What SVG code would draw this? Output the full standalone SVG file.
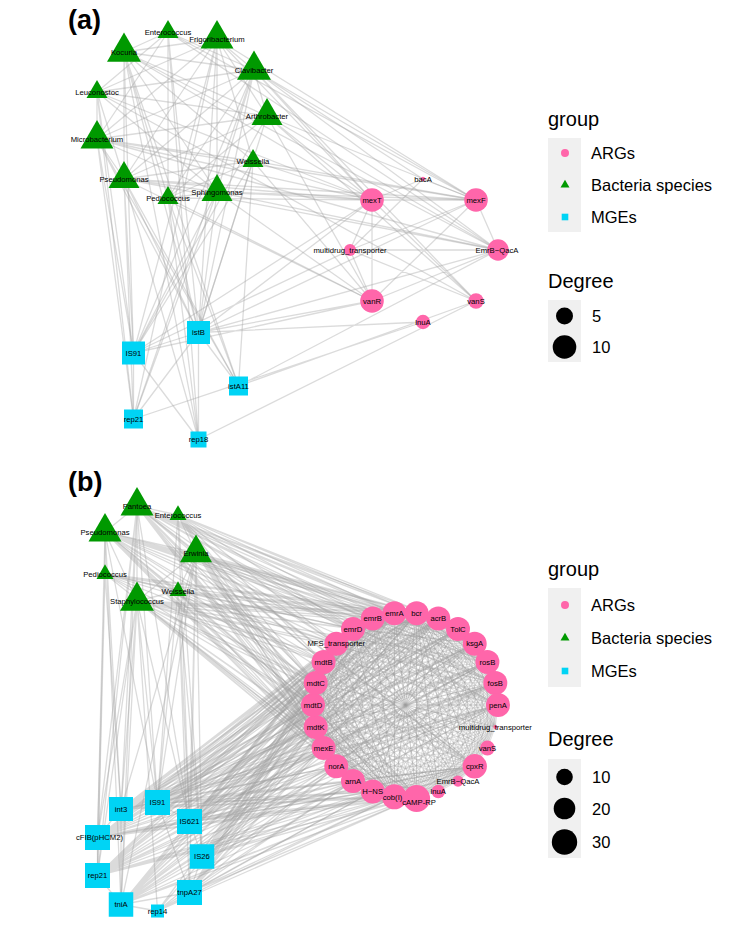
<svg xmlns="http://www.w3.org/2000/svg" xmlns:xlink="http://www.w3.org/1999/xlink" width="746" height="930" viewBox="0 0 746 930">
<style>
.e{fill:none;stroke:#a0a0a0;stroke-opacity:.38;stroke-width:1.3;stroke-linejoin:round;stroke-linecap:round}
.c{fill:none;stroke:#a0a0a0;stroke-opacity:.3;stroke-width:1;stroke-linejoin:round}
.arg{fill:#FF66AA}
.bac{fill:#009900}
.mge{fill:#00D4F5}
.l{font-family:"Liberation Sans",Arial,sans-serif;font-size:7.7px;fill:#000;text-anchor:middle}
.pl{font-family:"Liberation Sans",Arial,sans-serif;font-size:27px;font-weight:bold;fill:#000}
.lt{font-family:"Liberation Sans",Arial,sans-serif;font-size:20px;fill:#000}
.lx{font-family:"Liberation Sans",Arial,sans-serif;font-size:16.5px;fill:#000}
.kb{fill:#F0F0F0}
</style>
<defs>
<path id="chord" class="c" d="M416.6 613.2L438.3 618.5 416.6 613.2 458 628.9 416.6 613.2 474.7 643.7 416.6 613.2 487.4 662 416.6 613.2 495.3 682.9 416.6 613.2 498 705 416.6 613.2 495.3 727.1 416.6 613.2 487.4 748 416.6 613.2 474.7 766.3 416.6 613.2 458 781.1 416.6 613.2 438.3 791.5 416.6 613.2 416.6 796.8 416.6 613.2 394.4 796.8"/>
</defs>
<rect width="746" height="930" fill="#fff"/>
<text class="pl" x="68" y="29">(a)</text>
<text class="pl" x="68" y="491">(b)</text>

<g id="connectors-a" class="e">
<path d="M124 52L168 32 124 52 217 39 124 52 254 70 124 52 267 116 124 52 124 179 124 52 168 198 124 52 217 192 124 52 253 161 124 52 372 200 124 52 498 250 124 52 133.5 353 124 52 198.5 332.5 124 52 238.5 386 124 52 198.5 439.5"/>
<path d="M168 32L254 70 168 32 168 198 168 32 97 139 168 32 97 92 168 32 476 200 168 32 498 250 168 32 198.5 332.5 168 32 198.5 439.5"/>
<path d="M217 39L254 70 217 39 124 179 217 39 217 192 217 39 97 139 217 39 97 92 217 39 267 116 217 39 253 161 217 39 476 200 217 39 372 200 217 39 133.5 353 217 39 198.5 332.5 217 39 133.5 419"/>
<path d="M254 70L267 116 254 70 124 179 254 70 97 139 254 70 217 192 254 70 168 198 254 70 97 92 254 70 476 200 254 70 498 250 254 70 423 179 254 70 372 200 254 70 198.5 332.5 254 70 133.5 353 254 70 133.5 419 254 70 476 301"/>
<path d="M97 92L97 139 97 92 267 116 97 92 124 179 97 92 217 192 97 92 372 200 97 92 476 301 97 92 133.5 353 97 92 133.5 419"/>
<path d="M267 116L97 139 267 116 124 179 267 116 168 198 267 116 372 200 267 116 372 301 267 116 498 250 267 116 476 301 267 116 133.5 353 267 116 198.5 332.5 267 116 476 200"/>
<path d="M97 139L253 161 97 139 217 192 97 139 124 179 97 139 372 200 97 139 476 200 97 139 498 250 97 139 133.5 353 97 139 133.5 419 97 139 198.5 332.5 97 139 238.5 386"/>
<path d="M253 161L124 179 253 161 168 198 253 161 372 200 253 161 372 301 253 161 476 200 253 161 238.5 386 253 161 133.5 353 253 161 198.5 332.5"/>
<path d="M124 179L217 192 124 179 372 200 124 179 476 200 124 179 372 301 124 179 498 250 124 179 133.5 353 124 179 133.5 419 124 179 198.5 332.5 124 179 238.5 386 124 179 198.5 439.5"/>
<path d="M168 198L217 192 168 198 372 200 168 198 372 301 168 198 198.5 332.5 168 198 198.5 439.5 168 198 238.5 386"/>
<path d="M217 192L372 200 217 192 476 200 217 192 498 250 217 192 372 301 217 192 133.5 353 217 192 198.5 332.5 217 192 133.5 419"/>
<path d="M372 200L476 200M372 200L372 301M372 200L350 250M476 200L498 250M476 200L372 301M476 200L350 250M350 250L372 301M350 250L476 301M350 250L498 250M372 200L476 301M498 250L372 301M423 179L350 250M423 179L476 200M423 179L372 200"/>
<path d="M198.5 332.5L423 322M198.5 332.5L372 200M198.5 332.5L476 200M198.5 332.5L372 301M198.5 332.5L498 250M133.5 353L372 301M133.5 353L372 200M133.5 353L350 250M238.5 386L476 301M133.5 419L423 322M198.5 439.5L476 301M238.5 386L498 250"/>
<path d="M133.5 353L198.5 332.5M133.5 353L133.5 419M198.5 332.5L133.5 419M198.5 332.5L198.5 439.5M198.5 332.5L238.5 386M133.5 353L198.5 439.5"/>
</g>

<g id="connectors-b" class="e">
<use xlink:href="#chord"/>
<use xlink:href="#chord" transform="rotate(13.846 405.5 705)"/>
<use xlink:href="#chord" transform="rotate(27.692 405.5 705)"/>
<use xlink:href="#chord" transform="rotate(41.538 405.5 705)"/>
<use xlink:href="#chord" transform="rotate(55.385 405.5 705)"/>
<use xlink:href="#chord" transform="rotate(69.231 405.5 705)"/>
<use xlink:href="#chord" transform="rotate(83.077 405.5 705)"/>
<use xlink:href="#chord" transform="rotate(96.923 405.5 705)"/>
<use xlink:href="#chord" transform="rotate(110.769 405.5 705)"/>
<use xlink:href="#chord" transform="rotate(124.615 405.5 705)"/>
<use xlink:href="#chord" transform="rotate(138.462 405.5 705)"/>
<use xlink:href="#chord" transform="rotate(152.308 405.5 705)"/>
<use xlink:href="#chord" transform="rotate(166.154 405.5 705)"/>
<use xlink:href="#chord" transform="rotate(180 405.5 705)"/>
<use xlink:href="#chord" transform="rotate(193.846 405.5 705)"/>
<use xlink:href="#chord" transform="rotate(207.692 405.5 705)"/>
<use xlink:href="#chord" transform="rotate(221.538 405.5 705)"/>
<use xlink:href="#chord" transform="rotate(235.385 405.5 705)"/>
<use xlink:href="#chord" transform="rotate(249.231 405.5 705)"/>
<use xlink:href="#chord" transform="rotate(263.077 405.5 705)"/>
<use xlink:href="#chord" transform="rotate(276.923 405.5 705)"/>
<use xlink:href="#chord" transform="rotate(290.769 405.5 705)"/>
<use xlink:href="#chord" transform="rotate(304.615 405.5 705)"/>
<use xlink:href="#chord" transform="rotate(318.462 405.5 705)"/>
<use xlink:href="#chord" transform="rotate(332.308 405.5 705)"/>
<use xlink:href="#chord" transform="rotate(346.154 405.5 705)"/>
<path d="M137 506L416.6 613.2 137 506 438.3 618.5 137 506 458 628.9 137 506 474.7 643.7 137 506 487.4 662 137 506 495.3 682.9 137 506 498 705 137 506 474.7 766.3 137 506 416.6 796.8 137 506 394.4 796.8 137 506 372.7 791.5 137 506 353 781.1 137 506 336.3 766.3 137 506 323.6 748 137 506 315.7 727.1 137 506 313 705 137 506 315.7 682.9 137 506 323.6 662 137 506 336.3 643.7 137 506 353 628.9 137 506 372.7 618.5 137 506 394.4 613.2"/>
<path d="M105 532L416.6 613.2 105 532 438.3 618.5 105 532 458 628.9 105 532 474.7 643.7 105 532 487.4 662 105 532 495.3 682.9 105 532 498 705 105 532 474.7 766.3 105 532 416.6 796.8 105 532 394.4 796.8 105 532 372.7 791.5 105 532 353 781.1 105 532 336.3 766.3 105 532 323.6 748 105 532 315.7 727.1 105 532 313 705 105 532 315.7 682.9 105 532 323.6 662 105 532 336.3 643.7 105 532 353 628.9 105 532 372.7 618.5 105 532 394.4 613.2"/>
<path d="M196 553L416.6 613.2 196 553 438.3 618.5 196 553 458 628.9 196 553 474.7 643.7 196 553 487.4 662 196 553 495.3 682.9 196 553 498 705 196 553 474.7 766.3 196 553 416.6 796.8 196 553 394.4 796.8 196 553 372.7 791.5 196 553 353 781.1 196 553 336.3 766.3 196 553 323.6 748 196 553 315.7 727.1 196 553 313 705 196 553 315.7 682.9 196 553 323.6 662 196 553 336.3 643.7 196 553 353 628.9 196 553 372.7 618.5 196 553 394.4 613.2"/>
<path d="M137 601L416.6 613.2 137 601 438.3 618.5 137 601 458 628.9 137 601 474.7 643.7 137 601 487.4 662 137 601 495.3 682.9 137 601 498 705 137 601 474.7 766.3 137 601 416.6 796.8 137 601 394.4 796.8 137 601 372.7 791.5 137 601 353 781.1 137 601 336.3 766.3 137 601 323.6 748 137 601 315.7 727.1 137 601 313 705 137 601 315.7 682.9 137 601 323.6 662 137 601 336.3 643.7 137 601 353 628.9 137 601 372.7 618.5 137 601 394.4 613.2"/>
<path d="M178 515L394.4 613.2 178 515 372.7 618.5 178 515 353 628.9 178 515 336.3 643.7 178 515 323.6 662 178 515 315.7 682.9 178 515 313 705 178 515 416.6 613.2 178 515 438.3 618.5 178 515 323.6 748"/>
<path d="M105 574L394.4 613.2 105 574 372.7 618.5 105 574 353 628.9 105 574 336.3 643.7 105 574 323.6 662 105 574 315.7 682.9 105 574 313 705 105 574 416.6 613.2 105 574 438.3 618.5 105 574 323.6 748"/>
<path d="M178 591L394.4 613.2 178 591 372.7 618.5 178 591 353 628.9 178 591 336.3 643.7 178 591 323.6 662 178 591 315.7 682.9 178 591 313 705 178 591 416.6 613.2 178 591 438.3 618.5 178 591 323.6 748"/>
<path d="M137 506L178 515M137 506L105 532M137 506L196 553M105 532L196 553M105 532L137 601M137 506L137 601M196 553L137 601M105 532L105 574M105 574L178 591M196 553L178 591M178 515L196 553M105 532L178 591M137 601L178 591"/>
<path d="M105 532L97.5 837.5 105 532 97.5 875.5 105 532 121 809 105 532 121 904.5 105 532 157.5 802.5"/>
<path d="M137 506L121 809 137 506 121 904.5 137 506 157.5 802.5 137 506 97.5 875.5 137 506 97.5 837.5 137 506 189.5 821.5"/>
<path d="M137 601L121 809 137 601 121 904.5 137 601 157.5 802.5 137 601 189.5 821.5 137 601 157.5 911 137 601 97.5 837.5 137 601 97.5 875.5"/>
<path d="M196 553L189.5 821.5 196 553 202 856.5 196 553 189.5 892.5 196 553 157.5 802.5 196 553 121 809 196 553 121 904.5"/>
<path d="M105 574L97.5 837.5 105 574 97.5 875.5 105 574 121 809"/>
<path d="M178 591L157.5 802.5 178 591 189.5 821.5 178 591 189.5 892.5 178 591 202 856.5"/>
<path d="M178 515L157.5 802.5 178 515 189.5 821.5 178 515 202 856.5"/>
<path d="M121 809L416.6 613.2 121 809 438.3 618.5 121 809 458 628.9 121 809 474.7 643.7 121 809 487.4 662 121 809 495.3 682.9 121 809 498 705 121 809 474.7 766.3 121 809 416.6 796.8 121 809 394.4 796.8 121 809 372.7 791.5 121 809 353 781.1 121 809 336.3 766.3 121 809 323.6 748 121 809 315.7 727.1 121 809 313 705 121 809 315.7 682.9 121 809 323.6 662 121 809 336.3 643.7 121 809 353 628.9 121 809 372.7 618.5 121 809 394.4 613.2"/>
<path d="M157.5 802.5L416.6 613.2 157.5 802.5 438.3 618.5 157.5 802.5 458 628.9 157.5 802.5 474.7 643.7 157.5 802.5 487.4 662 157.5 802.5 495.3 682.9 157.5 802.5 498 705 157.5 802.5 474.7 766.3 157.5 802.5 416.6 796.8 157.5 802.5 394.4 796.8 157.5 802.5 372.7 791.5 157.5 802.5 353 781.1 157.5 802.5 336.3 766.3 157.5 802.5 323.6 748 157.5 802.5 315.7 727.1 157.5 802.5 313 705 157.5 802.5 315.7 682.9 157.5 802.5 323.6 662 157.5 802.5 336.3 643.7 157.5 802.5 353 628.9 157.5 802.5 372.7 618.5 157.5 802.5 394.4 613.2"/>
<path d="M189.5 821.5L416.6 613.2 189.5 821.5 438.3 618.5 189.5 821.5 458 628.9 189.5 821.5 474.7 643.7 189.5 821.5 487.4 662 189.5 821.5 495.3 682.9 189.5 821.5 498 705 189.5 821.5 474.7 766.3 189.5 821.5 416.6 796.8 189.5 821.5 394.4 796.8 189.5 821.5 372.7 791.5 189.5 821.5 353 781.1 189.5 821.5 336.3 766.3 189.5 821.5 323.6 748 189.5 821.5 315.7 727.1 189.5 821.5 313 705 189.5 821.5 315.7 682.9 189.5 821.5 323.6 662 189.5 821.5 336.3 643.7 189.5 821.5 353 628.9 189.5 821.5 372.7 618.5 189.5 821.5 394.4 613.2"/>
<path d="M97.5 837.5L416.6 613.2 97.5 837.5 438.3 618.5 97.5 837.5 458 628.9 97.5 837.5 474.7 643.7 97.5 837.5 487.4 662 97.5 837.5 495.3 682.9 97.5 837.5 498 705 97.5 837.5 474.7 766.3 97.5 837.5 416.6 796.8 97.5 837.5 394.4 796.8 97.5 837.5 372.7 791.5 97.5 837.5 353 781.1 97.5 837.5 336.3 766.3 97.5 837.5 323.6 748 97.5 837.5 315.7 727.1 97.5 837.5 313 705 97.5 837.5 315.7 682.9 97.5 837.5 323.6 662 97.5 837.5 336.3 643.7 97.5 837.5 353 628.9 97.5 837.5 372.7 618.5 97.5 837.5 394.4 613.2"/>
<path d="M97.5 875.5L416.6 613.2 97.5 875.5 438.3 618.5 97.5 875.5 458 628.9 97.5 875.5 474.7 643.7 97.5 875.5 487.4 662 97.5 875.5 495.3 682.9 97.5 875.5 498 705 97.5 875.5 474.7 766.3 97.5 875.5 416.6 796.8 97.5 875.5 394.4 796.8 97.5 875.5 372.7 791.5 97.5 875.5 353 781.1 97.5 875.5 336.3 766.3 97.5 875.5 323.6 748 97.5 875.5 315.7 727.1 97.5 875.5 313 705 97.5 875.5 315.7 682.9 97.5 875.5 323.6 662 97.5 875.5 336.3 643.7 97.5 875.5 353 628.9 97.5 875.5 372.7 618.5 97.5 875.5 394.4 613.2"/>
<path d="M121 904.5L416.6 613.2 121 904.5 438.3 618.5 121 904.5 458 628.9 121 904.5 474.7 643.7 121 904.5 487.4 662 121 904.5 495.3 682.9 121 904.5 498 705 121 904.5 474.7 766.3 121 904.5 416.6 796.8 121 904.5 394.4 796.8 121 904.5 372.7 791.5 121 904.5 353 781.1 121 904.5 336.3 766.3 121 904.5 323.6 748 121 904.5 315.7 727.1 121 904.5 313 705 121 904.5 315.7 682.9 121 904.5 323.6 662 121 904.5 336.3 643.7 121 904.5 353 628.9 121 904.5 372.7 618.5 121 904.5 394.4 613.2"/>
<path d="M202 856.5L416.6 796.8 202 856.5 394.4 796.8 202 856.5 372.7 791.5 202 856.5 353 781.1 202 856.5 336.3 766.3 202 856.5 323.6 748 202 856.5 315.7 727.1 202 856.5 313 705 202 856.5 315.7 682.9 202 856.5 323.6 662 202 856.5 336.3 643.7 202 856.5 353 628.9 202 856.5 372.7 618.5 202 856.5 394.4 613.2 202 856.5 416.6 613.2 202 856.5 438.3 618.5"/>
<path d="M189.5 892.5L416.6 796.8 189.5 892.5 394.4 796.8 189.5 892.5 372.7 791.5 189.5 892.5 353 781.1 189.5 892.5 336.3 766.3 189.5 892.5 323.6 748 189.5 892.5 315.7 727.1 189.5 892.5 313 705 189.5 892.5 315.7 682.9 189.5 892.5 323.6 662 189.5 892.5 336.3 643.7 189.5 892.5 353 628.9 189.5 892.5 372.7 618.5 189.5 892.5 394.4 613.2 189.5 892.5 416.6 613.2 189.5 892.5 438.3 618.5"/>
<path d="M157.5 911L416.6 796.8 157.5 911 394.4 796.8 157.5 911 372.7 791.5 157.5 911 353 781.1 157.5 911 336.3 766.3 157.5 911 372.7 618.5 157.5 911 416.6 613.2"/>
<path d="M121 809L157.5 802.5M121 809L97.5 837.5M157.5 802.5L189.5 821.5M97.5 837.5L97.5 875.5M97.5 875.5L121 904.5M121 904.5L189.5 892.5M189.5 821.5L202 856.5M202 856.5L189.5 892.5M121 904.5L157.5 911M121 809L121 904.5M157.5 802.5L189.5 892.5M97.5 837.5L189.5 821.5"/>
</g>

<g id="nodes-a">
<g id="a-Enterococcus"><polygon class="bac" points="168,19.9 178.5,38.1 157.5,38.1"/><text class="l" x="168" y="34.7">Enterococcus</text></g>
<g id="a-Frigoribacterium"><polygon class="bac" points="217,20 233.5,48.5 200.5,48.5"/><text class="l" x="217" y="41.7">Frigoribacterium</text></g>
<g id="a-Kocuria"><polygon class="bac" points="124,32.4 141,61.8 107,61.8"/><text class="l" x="124" y="54.7">Kocuria</text></g>
<g id="a-Clavibacter"><polygon class="bac" points="254,50.4 271,79.8 237,79.8"/><text class="l" x="254" y="72.7">Clavibacter</text></g>
<g id="a-Leuconostoc"><polygon class="bac" points="97,79.9 107.5,98.1 86.5,98.1"/><text class="l" x="97" y="94.7">Leuconostoc</text></g>
<g id="a-Arthrobacter"><polygon class="bac" points="267,98.1 282.5,125 251.5,125"/><text class="l" x="267" y="118.7">Arthrobacter</text></g>
<g id="a-Microbacterium"><polygon class="bac" points="97,120 113.5,148.5 80.5,148.5"/><text class="l" x="97" y="141.7">Microbacterium</text></g>
<g id="a-Weissella"><polygon class="bac" points="253,148.9 263.5,167.1 242.5,167.1"/><text class="l" x="253" y="163.7">Weissella</text></g>
<g id="a-Pseudomonas"><polygon class="bac" points="124,161.1 139.5,188 108.5,188"/><text class="l" x="124" y="181.7">Pseudomonas</text></g>
<g id="a-Pediococcus"><polygon class="bac" points="168,185.9 178.5,204.1 157.5,204.1"/><text class="l" x="168" y="200.7">Pediococcus</text></g>
<g id="a-Sphingomonas"><polygon class="bac" points="217,174.1 232.5,201 201.5,201"/><text class="l" x="217" y="194.7">Sphingomonas</text></g>
<g id="a-bacA"><circle class="arg" cx="423" cy="179" r="2.2"/><text class="l" x="423" y="181.7">bacA</text></g>
<g id="a-mexT"><circle class="arg" cx="372" cy="200" r="11.8"/><text class="l" x="372" y="202.7">mexT</text></g>
<g id="a-mexF"><circle class="arg" cx="476" cy="200" r="11.8"/><text class="l" x="476" y="202.7">mexF</text></g>
<g id="a-multidrug_transporter"><circle class="arg" cx="350" cy="250" r="6"/><text class="l" x="350" y="252.7">multidrug_transporter</text></g>
<g id="a-EmrB-QacA"><circle class="arg" cx="498" cy="250" r="10.7"/><text class="l" x="497" y="252.7">EmrB−QacA</text></g>
<g id="a-vanR"><circle class="arg" cx="372" cy="301" r="11.8"/><text class="l" x="372" y="303.7">vanR</text></g>
<g id="a-vanS"><circle class="arg" cx="476" cy="301" r="7.7"/><text class="l" x="476" y="303.7">vanS</text></g>
<g id="a-lnuA"><circle class="arg" cx="423" cy="322" r="7.2"/><text class="l" x="423" y="324.7">lnuA</text></g>
<g id="a-istB"><rect class="mge" x="187" y="321" width="23" height="23"/><text class="l" x="198.5" y="335.2">istB</text></g>
<g id="a-IS91"><rect class="mge" x="122" y="341.5" width="23" height="23"/><text class="l" x="133.5" y="355.7">IS91</text></g>
<g id="a-istA11"><rect class="mge" x="229" y="376.5" width="19" height="19"/><text class="l" x="238.5" y="388.7">istA11</text></g>
<g id="a-rep21"><rect class="mge" x="124" y="409.5" width="19" height="19"/><text class="l" x="133.5" y="421.7">rep21</text></g>
<g id="a-rep18"><rect class="mge" x="190.5" y="431.5" width="16" height="16"/><text class="l" x="198.5" y="442.2">rep18</text></g>
</g>

<g id="nodes-b">
<g id="b-Pantoea"><polygon class="bac" points="137,487 153.5,515.5 120.5,515.5"/><text class="l" x="137" y="508.7">Pantoea</text></g>
<g id="b-Enterococcus"><polygon class="bac" points="178,505.2 186.5,519.9 169.5,519.9"/><text class="l" x="178" y="517.7">Enterococcus</text></g>
<g id="b-Pseudomonas"><polygon class="bac" points="105,513 121.5,541.5 88.5,541.5"/><text class="l" x="105" y="534.7">Pseudomonas</text></g>
<g id="b-Erwinia"><polygon class="bac" points="196,534.5 212,562.2 180,562.2"/><text class="l" x="196" y="555.7">Erwinia</text></g>
<g id="b-Pediococcus"><polygon class="bac" points="105,564.2 113.5,578.9 96.5,578.9"/><text class="l" x="105" y="576.7">Pediococcus</text></g>
<g id="b-Weissella"><polygon class="bac" points="178,581.2 186.5,595.9 169.5,595.9"/><text class="l" x="178" y="593.7">Weissella</text></g>
<g id="b-Staphylococcus"><polygon class="bac" points="137,581.4 154,610.8 120,610.8"/><text class="l" x="137" y="603.7">Staphylococcus</text></g>

<g id="b-bcr"><circle class="arg" cx="416.6" cy="613.2" r="12"/><text class="l" x="416.6" y="615.9">bcr</text></g>
<g id="b-acrB"><circle class="arg" cx="438.3" cy="618.5" r="12"/><text class="l" x="438.3" y="621.2">acrB</text></g>
<g id="b-TolC"><circle class="arg" cx="458" cy="628.9" r="12"/><text class="l" x="458" y="631.6">TolC</text></g>
<g id="b-ksgA"><circle class="arg" cx="474.7" cy="643.7" r="12"/><text class="l" x="474.7" y="646.4">ksgA</text></g>
<g id="b-rosB"><circle class="arg" cx="487.4" cy="662" r="12"/><text class="l" x="487.4" y="664.7">rosB</text></g>
<g id="b-fosB"><circle class="arg" cx="495.3" cy="682.9" r="12"/><text class="l" x="495.3" y="685.6">fosB</text></g>
<g id="b-penA"><circle class="arg" cx="498" cy="705" r="12"/><text class="l" x="498" y="707.7">penA</text></g>
<g id="b-vanS"><circle class="arg" cx="487.4" cy="748" r="7.4"/><text class="l" x="487.4" y="750.7">vanS</text></g>
<g id="b-cpxR"><circle class="arg" cx="474.7" cy="766.3" r="12.2"/><text class="l" x="474.7" y="769">cpxR</text></g>
<g id="b-lnuA"><circle class="arg" cx="438.3" cy="791.5" r="6.8"/><text class="l" x="438.3" y="794.2">lnuA</text></g>
<g id="b-EmrB-QacA"><circle class="arg" cx="458" cy="781.1" r="5.6"/><text class="l" x="458" y="783.8">EmrB−QacA</text></g>
<g id="b-cob"><circle class="arg" cx="394.4" cy="796.8" r="12.5"/><text class="l" x="392.5" y="799.5">cob(I)</text></g>
<g id="b-cAMP-RP"><circle class="arg" cx="416.6" cy="798.5" r="13.5"/><text class="l" x="419" y="805.2">cAMP-RP</text></g>
<g id="b-H-NS"><circle class="arg" cx="372.7" cy="791.5" r="12"/><text class="l" x="372.7" y="794.2">H−NS</text></g>
<g id="b-arnA"><circle class="arg" cx="353" cy="781.1" r="12"/><text class="l" x="353" y="783.8">arnA</text></g>
<g id="b-norA"><circle class="arg" cx="336.3" cy="766.3" r="12"/><text class="l" x="336.3" y="769">norA</text></g>
<g id="b-mexE"><circle class="arg" cx="323.6" cy="748" r="12"/><text class="l" x="323.6" y="750.7">mexE</text></g>
<g id="b-mdtK"><circle class="arg" cx="315.7" cy="727.1" r="12"/><text class="l" x="315.7" y="729.8">mdtK</text></g>
<g id="b-mdtD"><circle class="arg" cx="313" cy="705" r="12"/><text class="l" x="313" y="707.7">mdtD</text></g>
<g id="b-mdtC"><circle class="arg" cx="315.7" cy="682.9" r="12"/><text class="l" x="315.7" y="685.6">mdtC</text></g>
<g id="b-mdtB"><circle class="arg" cx="323.6" cy="662" r="12"/><text class="l" x="323.6" y="664.7">mdtB</text></g>
<g id="b-emrD"><circle class="arg" cx="353" cy="628.9" r="12"/><text class="l" x="353" y="631.6">emrD</text></g>
<g id="b-emrB"><circle class="arg" cx="372.7" cy="618.5" r="12"/><text class="l" x="372.7" y="621.2">emrB</text></g>
<g id="b-emrA"><circle class="arg" cx="394.4" cy="613.2" r="12"/><text class="l" x="394.4" y="615.9">emrA</text></g>
<g id="b-MFS_transporter"><circle class="arg" cx="336.3" cy="643.7" r="12"/><text class="l" x="336.3" y="646.4">MFS_transporter</text></g>
<g id="b-multidrug_transporter"><circle class="arg" cx="495.3" cy="727.1" r="2"/><text class="l" x="495.3" y="729.8">multidrug_transporter</text></g>

<g id="b-int3"><rect class="mge" x="109" y="797" width="24" height="24"/><text class="l" x="121" y="811.7">int3</text></g>
<g id="b-IS91"><rect class="mge" x="145" y="790" width="25" height="25"/><text class="l" x="157.5" y="805.2">IS91</text></g>
<g id="b-IS621"><rect class="mge" x="177" y="809" width="25" height="25"/><text class="l" x="189.5" y="824.2">IS621</text></g>
<g id="b-cFIB"><rect class="mge" x="85" y="825" width="25" height="25"/><text class="l" x="99.5" y="840.2">cFIB(pHCM2)</text></g>
<g id="b-IS26"><rect class="mge" x="189.75" y="844.25" width="24.5" height="24.5"/><text class="l" x="202" y="859.2">IS26</text></g>
<g id="b-rep21"><rect class="mge" x="85" y="863" width="25" height="25"/><text class="l" x="97.5" y="878.2">rep21</text></g>
<g id="b-tnpA27"><rect class="mge" x="177" y="880" width="25" height="25"/><text class="l" x="189.5" y="895.2">tnpA27</text></g>
<g id="b-tniA"><rect class="mge" x="108.75" y="892.25" width="24.5" height="24.5"/><text class="l" x="121" y="907.2">tniA</text></g>
<g id="b-rep14"><rect class="mge" x="151" y="904.5" width="13" height="13"/><text class="l" x="157.5" y="913.7">rep14</text></g>
</g>

<g id="legend-a">
<text class="lt" x="548" y="126">group</text>
<rect class="kb" x="548" y="138" width="33" height="94"/>
<circle class="arg" cx="565" cy="153" r="4"/>
<polygon class="bac" points="565,179.8 569.5,187.6 560.5,187.6"/>
<rect class="mge" x="561.7" y="213.7" width="6.6" height="6.6"/>
<text class="lx" x="591" y="159">ARGs</text>
<text class="lx" x="591" y="191">Bacteria species</text>
<text class="lx" x="591" y="222.5">MGEs</text>
<text class="lt" x="548" y="287.5">Degree</text>
<rect class="kb" x="548" y="300" width="33" height="62"/>
<circle cx="564.5" cy="316" r="8.5" fill="#000"/>
<circle cx="564.5" cy="347" r="11.8" fill="#000"/>
<text class="lx" x="592" y="322">5</text>
<text class="lx" x="592" y="352.5">10</text>
</g>

<g id="legend-b">
<text class="lt" x="548" y="576">group</text>
<rect class="kb" x="548" y="588" width="33" height="99"/>
<circle class="arg" cx="565" cy="605" r="4"/>
<polygon class="bac" points="565,632.8 569.5,640.6 560.5,640.6"/>
<rect class="mge" x="561.7" y="667.7" width="6.6" height="6.6"/>
<text class="lx" x="591" y="611">ARGs</text>
<text class="lx" x="591" y="644">Bacteria species</text>
<text class="lx" x="591" y="677">MGEs</text>
<text class="lt" x="548" y="746">Degree</text>
<rect class="kb" x="548" y="759" width="33" height="99"/>
<circle cx="564.5" cy="777" r="8.3" fill="#000"/>
<circle cx="564.5" cy="808.5" r="10.8" fill="#000"/>
<circle cx="564.5" cy="842" r="12.7" fill="#000"/>
<text class="lx" x="592" y="782.5">10</text>
<text class="lx" x="592" y="815">20</text>
<text class="lx" x="592" y="848">30</text>
</g>
</svg>
